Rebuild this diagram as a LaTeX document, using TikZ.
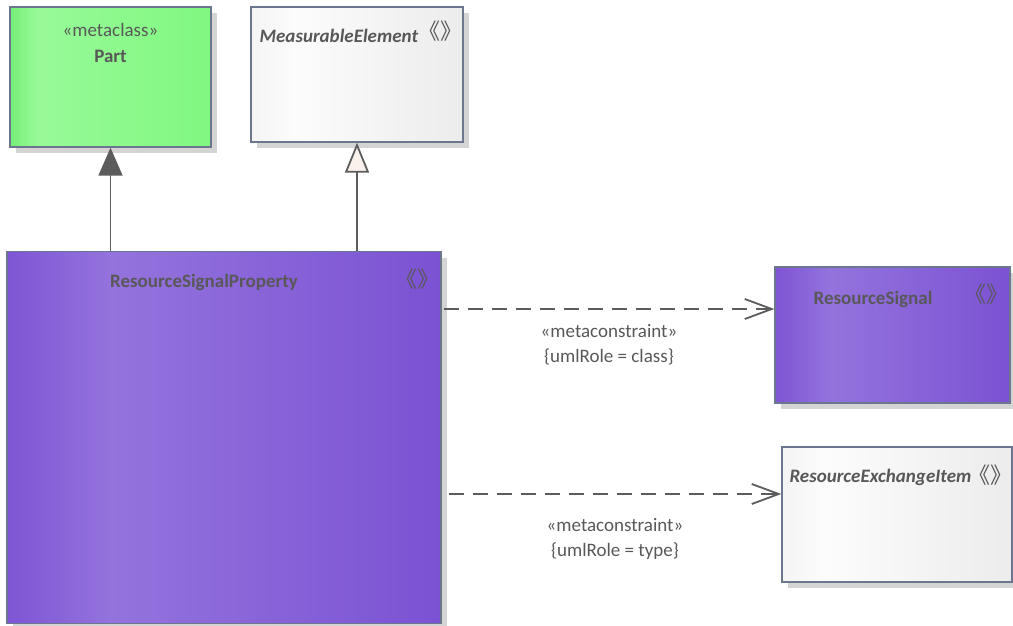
\documentclass[tikz,border=0pt]{standalone}
\usepackage{fontspec}
\setmainfont{Carlito}
\newfontfamily\cjkfont{Noto Sans CJK SC}
\usepackage{xcolor}
\usepackage{tikz}
\usetikzlibrary{arrows.meta, positioning, calc, shadows}
\definecolor{textcol}{RGB}{88,88,88}
\definecolor{linecol}{RGB}{92,92,92}
\definecolor{bordercol}{RGB}{108,118,142}
\definecolor{shadowcol}{RGB}{212,212,212}
\definecolor{hollowcol}{RGB}{250,241,236}
\definecolor{purL}{RGB}{126,85,212}
\definecolor{purM}{RGB}{148,115,221}
\definecolor{purR}{RGB}{123,82,211}
\definecolor{grnL}{RGB}{118,238,118}
\definecolor{grnM}{RGB}{152,250,152}
\definecolor{grnR}{RGB}{128,248,128}
\definecolor{wtL}{RGB}{244,244,244}
\definecolor{wtM}{RGB}{252,252,252}
\definecolor{wtR}{RGB}{236,236,236}
\pgfdeclarehorizontalshading{purShade}{100bp}{color(0bp)=(purL); color(25bp)=(purL);
  color(37bp)=(purM); color(75bp)=(purR); color(100bp)=(purR)}
\pgfdeclarehorizontalshading{grnShade}{100bp}{color(0bp)=(grnL); color(25bp)=(grnL);
  color(32bp)=(grnM); color(75bp)=(grnR); color(100bp)=(grnR)}
\pgfdeclarehorizontalshading{wtShade}{100bp}{color(0bp)=(wtL); color(25bp)=(wtL);
  color(35bp)=(wtM); color(75bp)=(wtR); color(100bp)=(wtR)}

\begin{document}
\begin{tikzpicture}[x=1pt, y=-1pt,
  box/.style={rectangle, draw=bordercol, line width=1.3pt, inner sep=0pt,
              drop shadow={shadow xshift=6pt, shadow yshift=-6pt,
                           fill=shadowcol, opacity=1}},
  purbox/.style={box, shade, shading=purShade},
  grnbox/.style={box, shade, shading=grnShade},
  wtbox/.style={box, shade, shading=wtShade},
  txt/.style={inner sep=0pt, text=textcol, font=\fontsize{19}{25}\selectfont},
  cname/.style={txt, font=\fontsize{19}{25}\selectfont\bfseries},
  aname/.style={txt, font=\fontsize{19}{25}\selectfont\bfseries\itshape},
  guil/.style={inner sep=0pt, text=textcol, font=\cjkfont\fontsize{22}{24}\selectfont},
  lbl/.style={txt, align=center},
  gen/.style={-{Triangle[length=28pt, width=24pt]}, line width=1.8pt, draw=linecol,
              fill=linecol},
  genopen/.style={-{Triangle[open, length=30pt, width=24pt, fill=hollowcol]},
                  line width=1.8pt, draw=linecol},
  dep/.style={-{Straight Barb[length=27pt, width=20pt]}, line width=1.8pt,
              draw=linecol, dash pattern=on 15pt off 9pt},
]
\useasboundingbox (0,0) rectangle (1013,625);

% Classes
\node[grnbox, minimum width=201pt, minimum height=140pt] (part) at (110.5,77) {};
\node[wtbox, minimum width=212pt, minimum height=135pt] (measEl) at (357,74.5) {};
\node[purbox, minimum width=434pt, minimum height=372pt] (rsp) at (224,437.5) {};
\node[purbox, minimum width=235pt, minimum height=136pt] (rsig) at (892.5,335) {};
\node[wtbox, minimum width=230pt, minimum height=135pt] (rei) at (897,514.5) {};

% Class names
\node[txt, anchor=base] (partSt) at ([yshift=-30.5pt]part.north) {«metaclass»};
\node[cname, anchor=base] (partNm) at ([yshift=-56pt]part.north) {Part};
\node[aname, anchor=base west] (measNm) at ([xshift=9pt, yshift=-36pt]measEl.north west) {MeasurableElement};
\node[guil] (measGl) at ([xshift=-23pt, yshift=-25pt]measEl.north east) {《》};
\node[cname, anchor=base] (rspNm) at ([xshift=-20pt, yshift=-37pt]rsp.north) {ResourceSignalProperty};
\node[guil] (rspGl) at ([xshift=-24pt, yshift=-28pt]rsp.north east) {《》};
\node[cname, anchor=base] (rsigNm) at ([xshift=-19.5pt, yshift=-38pt]rsig.north) {ResourceSignal};
\node[guil] (rsigGl) at ([xshift=-24pt, yshift=-28pt]rsig.north east) {《》};
\node[aname, anchor=base west] (reiNm) at ([xshift=8pt, yshift=-36pt]rei.north west) {ResourceExchangeItem};
\node[guil] (reiGl) at ([xshift=-22pt, yshift=-29pt]rei.north east) {《》};

% Generalisations
\draw[gen] (rsp.north -| part.south) -- (part.south);
\draw[genopen] (rsp.north -| measEl.south) -- (measEl.south);

% Metaconstraints
\draw[dep] ([xshift=2pt, yshift=26pt]rsp.east |- rsig.west) -- node[lbl, below=15pt] (mc1) {«metaconstraint»\\\{umlRole = class\}} ([yshift=26pt]rsig.west);
\draw[dep] ([xshift=7pt, yshift=20.5pt]rsp.east |- rei.west) -- node[lbl, below=24pt] (mc2) {«metaconstraint»\\\{umlRole = type\}} ([yshift=20.5pt]rei.west);
\end{tikzpicture}
\end{document}
